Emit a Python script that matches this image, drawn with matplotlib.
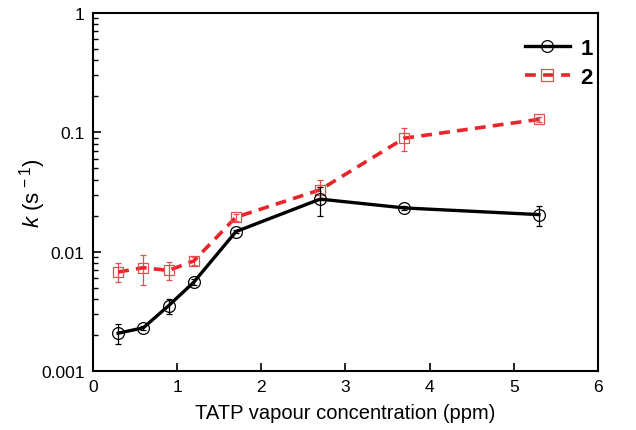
import matplotlib
matplotlib.use("Agg")
import matplotlib.pyplot as plt
import numpy as np
from matplotlib.lines import Line2D
from matplotlib.ticker import LogLocator, NullFormatter, FixedLocator, FixedFormatter

plt.rcParams['font.family'] = ['Liberation Sans', 'DejaVu Sans']
plt.rcParams['mathtext.fontset'] = 'custom'
plt.rcParams['mathtext.rm'] = 'Liberation Sans'
plt.rcParams['mathtext.it'] = 'Liberation Sans:italic'

x1 = [0.3, 0.6, 0.9, 1.2, 1.7, 2.7, 3.7, 5.3]
k1 = [0.00207, 0.0023, 0.00352, 0.00555, 0.0147, 0.0275, 0.0232, 0.0204]
k1_lo = [0.00040, 0.0001, 0.0005, 0.0003, 0.0005, 0.0075, 0.0007, 0.0039]
k1_hi = [0.00041, 0.0001, 0.0005, 0.0003, 0.0005, 0.0075, 0.0007, 0.0036]

x2 = [0.3, 0.6, 0.9, 1.2, 1.7, 2.7, 3.7, 5.3]
k2 = [0.00674, 0.00733, 0.00695, 0.00835, 0.0194, 0.0329, 0.089, 0.128]
k2_lo = [0.0012, 0.0021, 0.0012, 0.0006, 0.0012, 0.006, 0.019, 0.006]
k2_hi = [0.0013, 0.0021, 0.0013, 0.0006, 0.0012, 0.007, 0.019, 0.006]

labels = ['1', '2']
xticks = [0, 1, 2, 3, 4, 5, 6]
yticks = [0.001, 0.01, 0.1, 1]
ytick_labels = ['0.001', '0.01', '0.1', '1']

red = '#e8262a'
red_mk = '#e25050'
dash = (0, (3, 2))

fig = plt.figure(figsize=(6.36, 4.31), dpi=100)
ax = fig.add_axes([0.146, 0.137, 0.794, 0.831])

ax.errorbar(x1, k1, yerr=[k1_lo, k1_hi], color='black', lw=2.4, ls='-',
            marker='o', ms=8.5, mfc='none', mec='black', mew=0.9,
            ecolor='black', elinewidth=0.9, capsize=2.5, capthick=0.9, zorder=3)
ax.errorbar(x2, k2, yerr=[k2_lo, k2_hi], color=red, lw=2.6, ls=dash,
            marker='s', ms=7.5, mfc='none', mec=red_mk, mew=0.9,
            ecolor=red_mk, elinewidth=0.9, capsize=2.5, capthick=0.9, zorder=2)

ax.set_yscale('log')
ax.set_xlim(0, 6)
ax.set_ylim(0.001, 1)
ax.xaxis.set_major_locator(FixedLocator(xticks))
ax.set_xticklabels([str(t) for t in xticks])
ax.yaxis.set_major_locator(FixedLocator(yticks))
ax.yaxis.set_major_formatter(FixedFormatter(ytick_labels))
ax.yaxis.set_minor_locator(LogLocator(base=10, subs=np.arange(2, 10), numticks=20))
ax.yaxis.set_minor_formatter(NullFormatter())

ax.tick_params(axis='both', which='major', direction='in', length=6, width=1.2,
               labelsize=12.5, colors='black', top=False, right=False, pad=6)
ax.tick_params(axis='y', which='minor', direction='in', length=3.5, width=1.0, right=False)
ax.tick_params(axis='x', which='minor', bottom=False, top=False)
for s in ax.spines.values():
    s.set_linewidth(1.5)

ax.set_xlabel('TATP vapour concentration (ppm)', fontsize=14.5, labelpad=6)
ax.set_ylabel(r'$\mathit{k}$ (s$^{\,-1}$)', fontsize=16, labelpad=-5)

handles = [
    Line2D([], [], color='black', lw=2.4, ls='-', marker='o', ms=8.5, mfc='none', mec='black', mew=0.9),
    Line2D([], [], color=red, lw=2.6, ls=dash, marker='s', ms=8.5, mfc='none', mec=red_mk, mew=0.9),
]
ax.legend(handles, labels, loc='upper right', frameon=False, handlelength=2.0,
          bbox_to_anchor=(1.03, 0.985), borderaxespad=0.5, labelspacing=0.35,
          handletextpad=0.5, prop={'weight': 'bold', 'size': 16})

fig.savefig('out.png', dpi=100)
